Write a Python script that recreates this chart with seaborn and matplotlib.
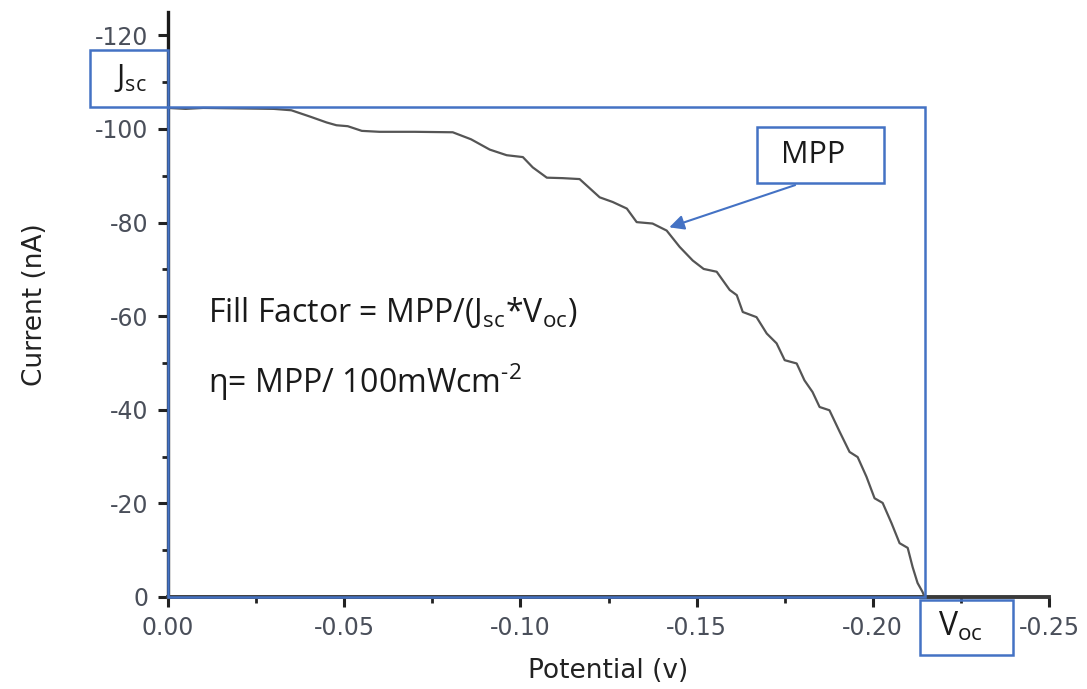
import matplotlib
matplotlib.use("Agg")
import matplotlib.pyplot as plt
from matplotlib.patches import Rectangle, FancyArrowPatch
from matplotlib.ticker import MultipleLocator, FormatStrFormatter
import seaborn as sns
import pandas as pd

# I-V sweep of the cell
potential_v = [0.0000, -0.0050, -0.0100, -0.0200, -0.0300, -0.0350, -0.0405, -0.0450,
               -0.0478, -0.0510, -0.0550, -0.0600, -0.0700, -0.0808, -0.0860, -0.0913,
               -0.0961, -0.1007, -0.1035, -0.1075, -0.1120, -0.1168, -0.1225, -0.1262,
               -0.1302, -0.1330, -0.1375, -0.1415, -0.1452, -0.1489, -0.1520, -0.1557,
               -0.1594, -0.1614, -0.1631, -0.1670, -0.1699, -0.1727, -0.1750, -0.1784,
               -0.1806, -0.1829, -0.1849, -0.1877, -0.1906, -0.1934, -0.1957, -0.1982,
               -0.2005, -0.2028, -0.2053, -0.2076, -0.2099, -0.2113, -0.2127, -0.2141,
               -0.2147]
current_na = [-104.5, -104.3, -104.5, -104.4, -104.3, -104.0, -102.6, -101.4,
              -100.8, -100.6, -99.6, -99.4, -99.4, -99.3, -97.8, -95.6,
              -94.4, -94.0, -91.8, -89.6, -89.5, -89.3, -85.4, -84.4,
              -83.0, -80.1, -79.8, -78.3, -74.8, -71.9, -70.1, -69.5,
              -65.6, -64.5, -60.9, -59.8, -56.3, -54.2, -50.6, -49.9,
              -46.3, -43.8, -40.6, -39.9, -35.3, -31.0, -29.9, -25.7,
              -21.1, -20.1, -15.8, -11.5, -10.5, -6.4, -3.0, -1.1,
              0.0]

# Key points of the curve
jsc = -104.6
voc = -0.2147
mpp_v, mpp_i = -0.1415, -78.8

x_ticks = [0.00, -0.05, -0.10, -0.15, -0.20, -0.25]
y_ticks = [0, -20, -40, -60, -80, -100, -120]

sns.set_theme(style="white")
plt.rcParams["font.family"] = ["DejaVu Sans"]
plt.rcParams["axes.unicode_minus"] = False
plt.rcParams["mathtext.fontset"] = "custom"
plt.rcParams["mathtext.rm"] = "Open Sans"
plt.rcParams["mathtext.it"] = "Open Sans:italic"

fig = plt.figure(figsize=(10.87, 6.89), dpi=100)
ax = fig.add_axes([168 / 1087, 1 - 597 / 689, (1049 - 168) / 1087, (597 - 12) / 689])

df = pd.DataFrame({"Potential": potential_v, "Current": current_na})
sns.lineplot(data=df, x="Potential", y="Current", ax=ax, color="#555555",
             linewidth=1.6, sort=False, estimator=None, zorder=3)

ax.set_xlim(0, -0.25)
ax.set_ylim(0, -125)

for side in ["top", "right"]:
    ax.spines[side].set_visible(False)
ax.spines["left"].set_color("#1a1a1a")
ax.spines["left"].set_linewidth(2.4)
ax.spines["bottom"].set_color("#3a3a3a")
ax.spines["bottom"].set_linewidth(2.8)

ax.xaxis.set_major_locator(MultipleLocator(0.05))
ax.xaxis.set_minor_locator(MultipleLocator(0.025))
ax.yaxis.set_major_locator(MultipleLocator(20))
ax.yaxis.set_minor_locator(MultipleLocator(10))
ax.xaxis.set_major_formatter(FormatStrFormatter("%.2f"))
ax.yaxis.set_major_formatter(FormatStrFormatter("%d"))
ax.set_xticks(x_ticks)
ax.set_yticks(y_ticks)
ax.tick_params(which="major", direction="out", length=7, width=2.2, color="#222222",
               labelsize=17, labelcolor="#4a4f5a", bottom=True, left=True)
ax.tick_params(which="minor", direction="out", length=4, width=2.0, color="#222222",
               bottom=True, left=True)
ax.tick_params(axis="x", which="major", pad=7)
ax.tick_params(axis="y", which="major", pad=7)

ax.set_xlabel("Potential (v)", fontsize=19, color="#222222", labelpad=13)
ax.set_ylabel("Current (nA)", fontsize=19, color="#222222", labelpad=34)

blue = "#4472C4"
# Jsc x Voc rectangle
ax.add_patch(Rectangle((0, jsc), voc, -jsc, fill=False, edgecolor=blue,
                       linewidth=1.8, zorder=4, clip_on=False))
# Jsc label box
ax.add_patch(Rectangle((0.0221, -116.8), -0.0221, 116.8 + jsc, fill=False,
                       edgecolor=blue, linewidth=1.8, zorder=4, clip_on=False))
# Voc label box
ax.add_patch(Rectangle((-0.2133, 0.64), -0.0264, 11.8, fill=False,
                       edgecolor=blue, linewidth=1.8, zorder=4, clip_on=False))
# MPP label box
ax.add_patch(Rectangle((-0.1670, -100.5), -0.0361, 12.1, fill=False,
                       edgecolor=blue, linewidth=1.8, zorder=4, clip_on=False))

note_font = "Open Sans"
ax.text(0.0106, -110.8, r"J$_{\mathrm{sc}}$", fontsize=22, family=note_font,
        color="#1a1a1a", ha="center", va="center", clip_on=False)
ax.text(-0.2250, 6.4, r"V$_{\mathrm{oc}}$", fontsize=23, family=note_font,
        color="#1a1a1a", ha="center", va="center", clip_on=False)
ax.text(-0.1830, -94.4, "MPP", fontsize=22, family=note_font,
        color="#1a1a1a", ha="center", va="center")

arrow = FancyArrowPatch((-0.1787, -88.2), (mpp_v, mpp_i), arrowstyle="-|>",
                        mutation_scale=22, color=blue, linewidth=1.5, zorder=5)
ax.add_patch(arrow)

ax.text(-0.0113, -60.8, r"Fill Factor = MPP/(J$_{\mathrm{sc}}$*V$_{\mathrm{oc}}$)",
        fontsize=23, family=note_font, color="#1a1a1a", ha="left", va="center")
ax.text(-0.0113, -45.9, r"η= MPP/ 100mWcm$^{\text{-2}}$",
        fontsize=23, family=note_font, color="#1a1a1a", ha="left", va="center")

fig.savefig("out.png", dpi=100, facecolor="white")
